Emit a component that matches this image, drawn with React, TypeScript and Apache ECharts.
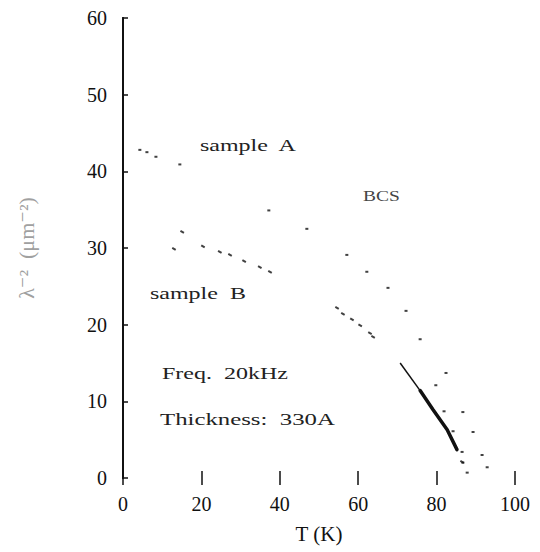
import React, { useEffect, useRef } from "react";
import * as echarts from "echarts";

const xTicks = [0, 20, 40, 60, 80, 100];
const yTicks = [0, 10, 20, 30, 40, 50, 60];

// sample A: [T (K), lambda^-2 (um^-2)]
const sampleA: [number, number][] = [
  [4.3, 42.8], [6.1, 42.5], [8.4, 41.9], [14.5, 40.9], [37.2, 34.9],
  [46.9, 32.5], [57.1, 29.1], [62.2, 26.9], [67.6, 24.8], [72.2, 21.8],
  [75.8, 18.1], [82.4, 13.7], [79.8, 12.1], [81.9, 8.7], [86.7, 8.6],
  [84.2, 6.1], [89.3, 6.0], [86.5, 3.4], [91.6, 3.0], [86.7, 2.0],
  [92.9, 1.4], [87.8, 0.7],
];

// sample B scattered points
const sampleB: [number, number][] = [
  [15.1, 32.1], [13.0, 29.9], [20.4, 30.2], [24.7, 29.5], [27.3, 29.1],
  [30.9, 28.3], [34.9, 27.5], [37.5, 26.9], [54.6, 22.2], [56.1, 21.4],
  [58.4, 20.7], [60.5, 19.9], [63.0, 18.9], [63.8, 18.4], [86.5, 2.1],
];

// sample B dense region near Tc (drawn as a trace)
const sampleBThin: [number, number][] = [
  [70.7, 15.0], [75.8, 11.4],
];
const sampleBThick: [number, number][] = [
  [75.8, 11.4], [79.1, 8.9], [82.7, 6.3], [85.2, 3.7],
];

const serif = "'Liberation Serif', 'DejaVu Serif', serif";

const note = (text: string, x: number, y: number, sx: number, size = 16, fill = "#222") => ({
  type: "text",
  x,
  y,
  scaleX: sx,
  style: { text, font: `${size}px ${serif}`, fill, textVerticalAlign: "middle", textAlign: "left" },
});

export default function App() {
  const ref = useRef<HTMLDivElement>(null);
  useEffect(() => {
    if (!ref.current) return;
    const chart = echarts.init(ref.current, undefined, { renderer: "svg" });
    chart.setOption({
      animation: false,
      backgroundColor: "#ffffff",
      grid: { left: 123, right: 25, top: 18, bottom: 74 },
      xAxis: [
        {
          type: "value",
          min: 0,
          max: 100,
          interval: 20,
          position: "bottom",
          name: "T (K)",
          nameLocation: "middle",
          nameGap: 45,
          nameTextStyle: { fontFamily: serif, fontSize: 21, color: "#111" },
          axisLine: { show: false },
          axisTick: { show: true, inside: true, length: 7, lineStyle: { color: "#111", width: 1.5 } },
          axisLabel: {
            fontFamily: serif,
            fontSize: 20,
            color: "#111",
            margin: 16,
            formatter: (v: number) => (xTicks.includes(v) ? String(v) : ""),
          },
          splitLine: { show: false },
        },
        {
          type: "value",
          min: 0,
          max: 100,
          interval: 20,
          position: "top",
          axisLine: { show: false },
          axisTick: { show: true, inside: true, length: 7, lineStyle: { color: "#111", width: 1.5 } },
          axisLabel: { show: false },
          splitLine: { show: false },
        },
      ],
      yAxis: [
        {
          type: "value",
          min: 0,
          max: 60,
          interval: 10,
          position: "left",
          name: "λ⁻²  (μm⁻²)",
          nameLocation: "middle",
          nameGap: 86,
          nameRotate: 90,
          nameTextStyle: { fontFamily: serif, fontSize: 22, color: "#a0a0a0" },
          axisLine: { show: true, lineStyle: { color: "#111", width: 2 } },
          axisTick: { show: true, inside: true, length: 5, lineStyle: { color: "#111", width: 1.5 } },
          axisLabel: {
            fontFamily: serif,
            fontSize: 20,
            color: "#111",
            margin: 16,
            formatter: (v: number) => (yTicks.includes(v) ? String(v) : ""),
          },
          splitLine: { show: false },
        },
        {
          type: "value",
          min: 0,
          max: 60,
          interval: 10,
          position: "right",
          axisLine: { show: true, lineStyle: { color: "#111", width: 2 } },
          axisTick: { show: false },
          axisLabel: { show: false },
          splitLine: { show: false },
        },
      ],
      series: [
        {
          name: "sample A",
          type: "scatter",
          data: sampleA,
          symbol: "rect",
          symbolSize: [3, 2],
          itemStyle: { color: "#111" },
        },
        {
          name: "sample B",
          type: "scatter",
          data: sampleB,
          symbol: "rect",
          symbolSize: [4, 2],
          symbolRotate: -30,
          itemStyle: { color: "#111" },
        },
        {
          name: "sample B thin",
          type: "line",
          data: sampleBThin,
          showSymbol: false,
          lineStyle: { color: "#111", width: 1.5 },
        },
        {
          name: "sample B thick",
          type: "line",
          data: sampleBThick,
          showSymbol: false,
          lineStyle: { color: "#111", width: 3.5, cap: "round", join: "round" },
        },
      ],
      graphic: [
        note("sample  A", 200, 146, 1.5),
        note("BCS", 363, 196, 1.3, 15, "#444"),
        note("sample  B", 150, 294, 1.5),
        note("Freq.  20kHz", 162, 374, 1.5),
        note("Thickness:  330A", 160, 420, 1.55),
      ],
    });
    return () => chart.dispose();
  }, []);
  return <div ref={ref} style={{ width: 540, height: 552, position: "absolute", left: 0, top: 0 }} />;
}
